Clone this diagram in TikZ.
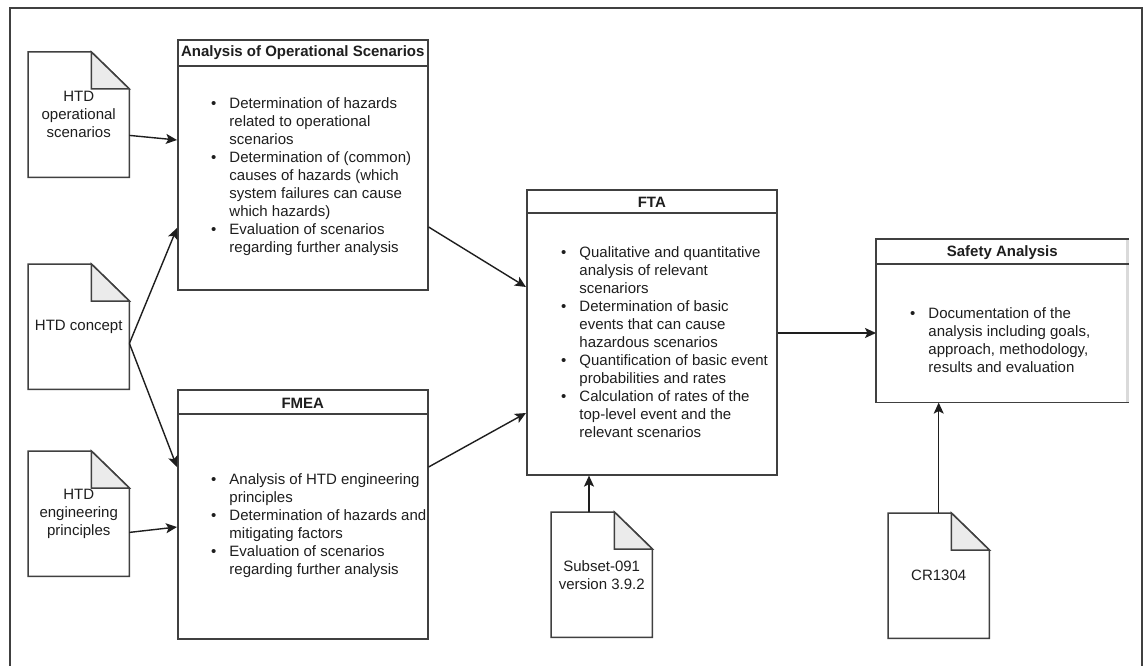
\documentclass[tikz,border=0pt]{standalone}
\usepackage{fontspec}
\setmainfont{Liberation Sans}
\usetikzlibrary{arrows.meta,calc}

\definecolor{edge}{HTML}{404040}
\definecolor{fold}{HTML}{EBEBEB}
\definecolor{ink}{HTML}{1E1E1E}
\definecolor{pale}{HTML}{DADADA}

% bullet list: one row per printed line, bullet only on the first line of an item
\newcommand{\blist}[1]{{\fontsize{15pt}{18pt}\selectfont
  \begin{tabular}{@{}l@{\hspace{13pt}}l@{}}#1\end{tabular}}}

\tikzset{
  >={Stealth[length=11pt,width=10pt,inset=2.5pt,fill=ink]},
  doc/.style={minimum width=101pt, minimum height=125pt, inner sep=0pt,
    align=center, font=\fontsize{15pt}{18pt}\selectfont, text=ink, anchor=north west},
  lane/.style={draw=edge, line width=1.6pt, inner sep=0pt, anchor=north west},
  lanetitle/.style={inner sep=0pt, font=\fontsize{15pt}{18pt}\selectfont\bfseries, text=ink},
  rule/.style={draw=edge, line width=1.4pt},
  bullets/.style={inner sep=0pt, anchor=west, text=ink},
  flow/.style={->, draw=ink, line width=1.4pt},
  docline/.style={draw=edge, line width=1.5pt, line join=miter},
  frame/.style={draw=edge, line width=2pt},
}

\begin{document}
\begin{tikzpicture}
\begin{scope}[x=1pt, y=-1pt]
\clip (0,0) rectangle (1144,666);
\fill[white] (0,0) rectangle (1144,666);

% outer frame (its lower edge lies below the page)
\draw[frame] (10,8) rectangle (1142,700);

% ---------- input documents ----------
\node[doc] (op)  at (28,52)   {HTD\\operational\\scenarios};
\node[doc] (con) at (28,264)  {HTD concept};
\node[doc] (eng) at (28,451)  {HTD\\engineering\\principles};
\node[doc] (sub) at (551,512) {Subset-091\\version 3.9.2};
\node[doc] (cr)  at (888,513) {CR1304};

\foreach \d in {op,con,eng,sub,cr}{
  \draw[docline] (\d.north west) -- ($(\d.north east)+(-38,0)$)
    -- ($(\d.north east)+(0,37)$) -- (\d.south east) -- (\d.south west) -- cycle;
  \filldraw[docline, fill=fold] ($(\d.north east)+(-38,0)$)
    -- ($(\d.north east)+(-38,37)$) -- ($(\d.north east)+(0,37)$) -- cycle;
}

% ---------- analysis steps ----------
\node[lane, minimum width=250pt, minimum height=250pt] (aos)  at (177,39)  {};
\node[lane, minimum width=250pt, minimum height=249pt] (fmea) at (177,389) {};
\node[lane, minimum width=250pt, minimum height=285pt] (fta)  at (526,189) {};
\node[lane, draw=none, minimum width=251pt, minimum height=162pt] (saf) at (876,239) {};

% safety analysis outline: right side drawn pale
\draw[draw=pale, line width=2.5pt] ($(saf.north east)+(-1,0)$) -- ($(saf.south east)+(-1,0)$);
\draw[draw=edge, line width=1.6pt] (saf.north east) -- (saf.north west)
  -- (saf.south west) -- (saf.south east);

% title rules
\draw[rule] ($(aos.north west)+(0,27)$)  -- ($(aos.north east)+(0,27)$);
\draw[rule] ($(fmea.north west)+(0,25)$) -- ($(fmea.north east)+(0,25)$);
\draw[rule] ($(fta.north west)+(0,24)$)  -- ($(fta.north east)+(0,24)$);
\draw[rule] ($(saf.north west)+(0,25)$)  -- ($(saf.north east)+(0,25)$);

% titles
\node[lanetitle] (aosT)  at ($(aos.north)+(0,14)$)  {Analysis of Operational Scenarios};
\node[lanetitle] (fmeaT) at ($(fmea.north)+(0,14)$) {FMEA};
\node[lanetitle] (ftaT)  at ($(fta.north)+(0,13)$)  {FTA};
\node[lanetitle] (safT)  at ($(saf.north)+(0,14)$)  {Safety Analysis};

% bullet lists
\node[bullets] (aosL) at (211,177) {\blist{
  \textbullet & Determination of hazards\\
   & related to operational\\
   & scenarios\\
  \textbullet & Determination of (common)\\
   & causes of hazards (which\\
   & system failures can cause\\
   & which hazards)\\
  \textbullet & Evaluation of scenarios\\
   & regarding further analysis}};

\node[bullets] (fmeaL) at (211,526) {\blist{
  \textbullet & Analysis of HTD engineering\\
   & principles\\
  \textbullet & Determination of hazards and\\
   & mitigating factors\\
  \textbullet & Evaluation of scenarios\\
   & regarding further analysis}};

\node[bullets] (ftaL) at (561,344) {\blist{
  \textbullet & Qualitative and quantitative\\
   & analysis of relevant\\
   & scenariors\\
  \textbullet & Determination of basic\\
   & events that can cause\\
   & hazardous scenarios\\
  \textbullet & Quantification of basic event\\
   & probabilities and rates\\
  \textbullet & Calculation of rates of the\\
   & top-level event and the\\
   & relevant scenarios}};

\node[bullets] (safL) at (910,342) {\blist{
  \textbullet & Documentation of the\\
   & analysis including goals,\\
   & approach, methodology,\\
   & results and evaluation}};

% ---------- connectors ----------
\draw[flow] ($(op.south east)+(0,-42)$)  -- ($(aos.north west)+(0,101)$);
\draw[flow] ($(con.south east)+(0,-46)$) -- ($(aos.north west)+(0,189)$);
\draw[flow] ($(con.south east)+(0,-46)$) -- ($(fmea.north west)+(0,78)$);
\draw[flow] ($(eng.south east)+(0,-44)$) -- ($(fmea.north west)+(0,138)$);
\draw[flow] ($(aos.north east)+(0,188)$)  -- ($(fta.north west)+(0,98)$);
\draw[flow] ($(fmea.north east)+(0,78)$)  -- ($(fta.north west)+(0,224)$);
\draw[flow] ($(fta.north east)+(0,144)$)  -- ($(saf.north west)+(0,94)$);
\draw[flow] ($(sub.north west)+(38,0)$)   -- ($(fta.south west)+(63,0)$);
\draw[flow] (cr.north) -- (cr.north |- saf.south);
\end{scope}
\end{tikzpicture}
\end{document}
